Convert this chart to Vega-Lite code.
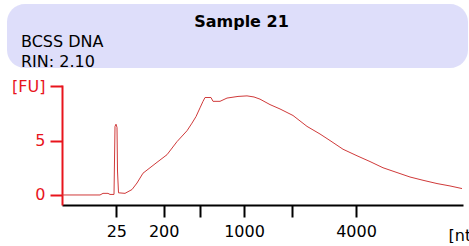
{
  "$schema": "https://vega.github.io/schema/vega-lite/v6.json",
  "padding": {"left": 7, "top": 4, "right": 0, "bottom": 0},
  "background": "white",
  "spacing": 8,
  "config": {"view": {"stroke": null}, "font": "DejaVu Sans"},
  "vconcat": [
    {
      "width": 406,
      "height": 64,
      "data": {"values": [
        {"line": "a", "text": "Sample 21", "role": "title"},
        {"line": "b", "text": "BCSS DNA", "role": "info"},
        {"line": "c", "text": "RIN: 2.10", "role": "info"}
      ]},
      "layer": [
        {
          "transform": [{"filter": "datum.role == 'title'"}],
          "mark": {"type": "rect", "fill": "#dedefa", "cornerRadius": 18, "clip": false},
          "encoding": {
            "x": {"datum": 0, "type": "quantitative", "scale": {"domain": [0, 1], "range": [-55, 406]}, "axis": null},
            "x2": {"datum": 1},
            "y": {"datum": 0, "type": "quantitative", "scale": {"domain": [0, 1], "range": [0, 64]}, "axis": null},
            "y2": {"datum": 1}
          }
        },
        {
          "transform": [{"filter": "datum.role == 'title'"}],
          "mark": {"type": "text", "font": "DejaVu Sans", "fontSize": 16, "fontWeight": "bold", "align": "center", "baseline": "alphabetic", "dx": 4, "dy": 11, "color": "black"},
          "encoding": {
            "x": {"datum": 0.5, "type": "quantitative"},
            "y": {"field": "line", "type": "ordinal", "scale": {"type": "point", "domain": ["a", "b", "c"], "padding": 0.625}, "axis": null},
            "text": {"field": "text"}
          }
        },
        {
          "transform": [{"filter": "datum.role == 'info'"}],
          "mark": {"type": "text", "font": "DejaVu Sans", "fontSize": 16, "align": "left", "baseline": "alphabetic", "dx": 14, "dy": 11, "color": "black"},
          "encoding": {
            "x": {"datum": 0, "type": "quantitative"},
            "y": {"field": "line", "type": "ordinal", "scale": {"type": "point", "domain": ["a", "b", "c"], "padding": 0.625}, "axis": null},
            "text": {"field": "text"}
          }
        }
      ],
      "resolve": {"scale": {"y": "independent"}}
    },
    {
      "width": 401,
      "height": 120,
      "data": {"values": [
        {"t": 0, "v": 0}, {"t": 38, "v": 0}, {"t": 41, "v": 0.15}, {"t": 46, "v": 0.15}, {"t": 48, "v": 0.05},
        {"t": 52, "v": 0.05}, {"t": 53, "v": 6.3}, {"t": 54, "v": 6.5}, {"t": 55, "v": 6.2}, {"t": 55.5, "v": 2.2},
        {"t": 56.5, "v": 0.2}, {"t": 63, "v": 0.15}, {"t": 70, "v": 0.5}, {"t": 75, "v": 1.1}, {"t": 81, "v": 2.0},
        {"t": 88, "v": 2.5}, {"t": 95, "v": 3.0}, {"t": 105, "v": 3.7}, {"t": 115, "v": 4.9}, {"t": 125, "v": 5.9},
        {"t": 130, "v": 6.6}, {"t": 134, "v": 7.2}, {"t": 138, "v": 8.0}, {"t": 141, "v": 8.6}, {"t": 143, "v": 8.95},
        {"t": 149, "v": 8.95}, {"t": 151, "v": 8.6}, {"t": 158, "v": 8.6}, {"t": 165, "v": 8.9}, {"t": 176, "v": 9.05},
        {"t": 185, "v": 9.1}, {"t": 192, "v": 9.0}, {"t": 198, "v": 8.8}, {"t": 208, "v": 8.3}, {"t": 218, "v": 7.9},
        {"t": 231, "v": 7.3}, {"t": 245, "v": 6.3}, {"t": 258, "v": 5.6}, {"t": 268, "v": 5.0}, {"t": 281, "v": 4.2},
        {"t": 295, "v": 3.6}, {"t": 308, "v": 3.07}, {"t": 321, "v": 2.5}, {"t": 335, "v": 2.06}, {"t": 348, "v": 1.65},
        {"t": 361, "v": 1.35}, {"t": 375, "v": 1.05}, {"t": 388, "v": 0.83}, {"t": 400, "v": 0.59}
      ]},
      "mark": {"type": "line", "color": "#d03a3a", "strokeWidth": 1, "interpolate": "linear"},
      "encoding": {
        "x": {
          "field": "t", "type": "quantitative",
          "scale": {"domain": [0, 401], "nice": false, "zero": false},
          "axis": {
            "values": [54.3, 101.7, 138, 182, 230, 294],
            "labelExpr": "datum.value == 54.3 ? '25' : datum.value == 101.7 ? '200' : datum.value == 182 ? '1000' : datum.value == 294 ? '4000' : ''",
            "domainColor": "black", "domainWidth": 2, "tickColor": "black", "tickWidth": 2, "tickSize": 12,
            "labelFont": "DejaVu Sans", "labelFontSize": 16, "labelColor": "black", "labelPadding": 6,
            "labelFlush": false, "labelOverlap": false, "grid": false,
            "title": "[nt]", "titleFont": "DejaVu Sans", "titleFontSize": 16, "titleFontWeight": "normal",
            "titleColor": "black", "titleAlign": "left", "titleBaseline": "alphabetic", "titleAnchor": "start",
            "titleX": 386, "titleY": 35
          }
        },
        "y": {
          "field": "v", "type": "quantitative",
          "scale": {"domain": [-0.92, 10.1], "nice": false, "zero": false},
          "axis": {
            "values": [0, 5, 10],
            "labelExpr": "datum.value == 10 ? '[FU]' : datum.label",
            "domainColor": "#e8141c", "domainWidth": 2, "tickColor": "#e8141c", "tickWidth": 2, "tickSize": 12,
            "labelFont": "DejaVu Sans", "labelFontSize": 16, "labelColor": "#e8141c", "labelPadding": 5,
            "grid": false, "title": null
          }
        }
      }
    }
  ]
}
